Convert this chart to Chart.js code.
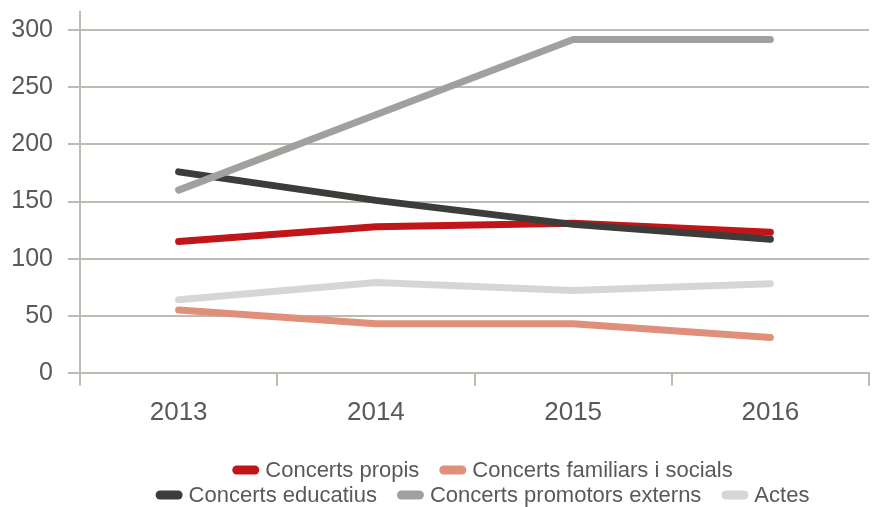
<!DOCTYPE html>
<html>
<head>
<meta charset="utf-8">
<script src="https://cdn.jsdelivr.net/npm/chart.js@4.4.1/dist/chart.umd.min.js"></script>
<style>
  html, body { margin: 0; padding: 0; background: #fff; }
</style>
</head>
<body>
<canvas id="chart" width="885" height="507"></canvas>
<script>
// Data
const years = ['2013', '2014', '2015', '2016'];
const seriesNames = ['Concerts propis', 'Concerts familiars i socials', 'Concerts educatius', 'Concerts promotors externs', 'Actes'];
const concertsPropis = [115, 128, 131, 123];
const concertsFamiliars = [55, 43, 43, 31];
const concertsEducatius = [176, 151, 130, 117];
const concertsPromotors = [160, 226, 292, 292];
const actes = [64, 79, 72, 78];
const yTicks = [0, 50, 100, 150, 200, 250, 300];

const colors = ['#C0161A', '#E0907A', '#3C3C3A', '#A0A09E', '#D6D6D6'];
const drawOrder = [3, 4, 2, 1, 5]; // lower = drawn on top
const gridColor = '#BBBBB2';
const textColor = '#595959';
const fontFamily = '"Liberation Sans", Arial, sans-serif';

const values = [concertsPropis, concertsFamiliars, concertsEducatius, concertsPromotors, actes];

// Legend drawn in two centred rows, like the original
const bottomLegend = {
    id: 'bottomLegend',
    afterDraw(chart) {
        const ctx = chart.ctx;
        const rows = [[0, 1], [2, 3, 4]];
        const rowY = [470, 495];
        const boxW = 27, boxH = 9, gap = 6, spacing = 20;
        const centerX = (chart.chartArea.left + chart.chartArea.right) / 2 + 8;
        ctx.save();
        ctx.font = '22px ' + fontFamily;
        ctx.textBaseline = 'middle';
        rows.forEach((row, r) => {
            const widths = row.map(i => boxW + gap + ctx.measureText(chart.data.datasets[i].label).width);
            const total = widths.reduce((a, b) => a + b, 0) + spacing * (row.length - 1);
            let x = centerX - total / 2;
            row.forEach((i, k) => {
                const ds = chart.data.datasets[i];
                ctx.fillStyle = ds.borderColor;
                ctx.beginPath();
                ctx.roundRect(x, rowY[r] - boxH / 2, boxW, boxH, boxH / 2);
                ctx.fill();
                ctx.fillStyle = textColor;
                ctx.fillText(ds.label, x + boxW + gap, rowY[r] + 1);
                x += widths[k] + spacing;
            });
        });
        ctx.restore();
    }
};

new Chart(document.getElementById('chart'), {
    type: 'line',
    data: {
        labels: years,
        datasets: seriesNames.map((name, i) => ({
            label: name,
            data: values[i],
            borderColor: colors[i],
            backgroundColor: colors[i],
            borderWidth: 7,
            borderCapStyle: 'round',
            borderJoinStyle: 'round',
            pointRadius: 0,
            pointHoverRadius: 0,
            tension: 0,
            fill: false,
            order: drawOrder[i]
        }))
    },
    options: {
        responsive: false,
        animation: false,
        layout: { padding: { top: 12, left: 11, right: 16, bottom: 68 } },
        plugins: {
            legend: { display: false },
            tooltip: { enabled: false }
        },
        scales: {
            x: {
                offset: true,
                afterFit: scale => { scale.paddingLeft = 0; scale.paddingRight = 0; },
                grid: {
                    offset: true,
                    drawOnChartArea: false,
                    tickLength: 13,
                    color: gridColor,
                    lineWidth: 2
                },
                border: { color: gridColor, width: 2 },
                ticks: {
                    font: { size: 26, family: fontFamily },
                    color: textColor,
                    padding: 11
                }
            },
            y: {
                min: 0,
                max: 316,
                afterBuildTicks: scale => { scale.ticks = yTicks.map(v => ({ value: v })); },
                afterFit: scale => { scale.width = 69; scale.paddingTop = 0; scale.paddingBottom = 0; },
                grid: {
                    tickLength: 12,
                    color: gridColor,
                    lineWidth: 2
                },
                border: { color: gridColor, width: 2 },
                ticks: {
                    font: { size: 25, family: fontFamily },
                    color: textColor,
                    padding: 15
                }
            }
        }
    },
    plugins: [bottomLegend]
});
</script>
</body>
</html>
